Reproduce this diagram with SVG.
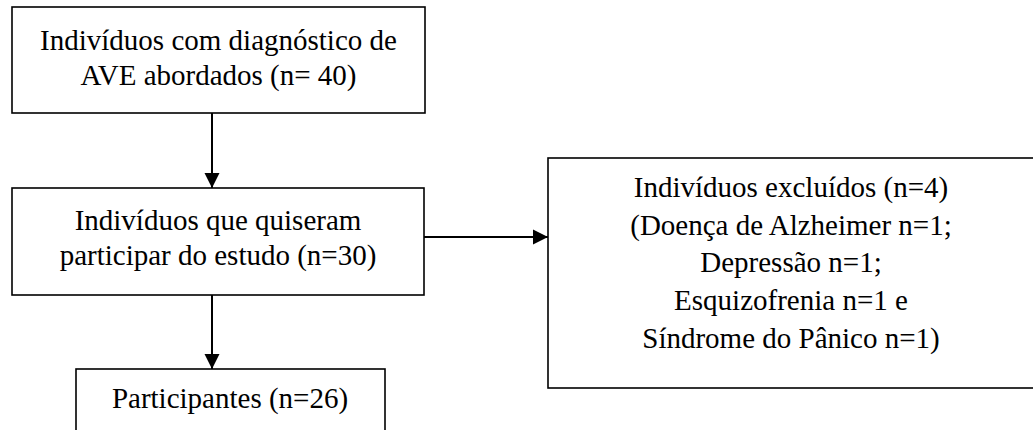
<svg xmlns="http://www.w3.org/2000/svg" width="1033" height="430" viewBox="0 0 1033 430">
<style>
.box{fill:#fff;stroke:#000;stroke-width:1.6}
.t{font-family:'Liberation Serif','Times New Roman',Times,'DejaVu Serif',serif;font-size:29px;fill:#000;text-anchor:middle}
.c{stroke:#000;stroke-width:2;fill:none;marker-end:url(#ah)}
</style>
<defs>
<marker id="ah" markerUnits="userSpaceOnUse" markerWidth="16" markerHeight="16" viewBox="0 0 16 16" refX="15" refY="8" orient="auto">
<path d="M0,0.5 L15,8 L0,15.5 Z" fill="#000"/>
</marker>
</defs>
<rect width="1033" height="430" fill="#fff"/>
<g id="n1">
<rect class="box" x="12" y="7" width="413" height="106"/>
<text class="t" x="218.5" y="50">Indivíduos com diagnóstico de</text>
<text class="t" x="218.5" y="85">AVE abordados (n= 40)</text>
</g>
<g id="n2">
<rect class="box" x="12" y="188" width="412" height="107"/>
<text class="t" x="218" y="230">Indivíduos que quiseram</text>
<text class="t" x="218" y="265">participar do estudo (n=30)</text>
</g>
<g id="n3">
<rect class="box" x="548" y="158" width="486" height="230"/>
<text class="t" x="791" y="197">Indivíduos excluídos (n=4)</text>
<text class="t" x="791" y="235">(Doença de Alzheimer n=1;</text>
<text class="t" x="791" y="272">Depressão n=1;</text>
<text class="t" x="791" y="310">Esquizofrenia n=1 e</text>
<text class="t" x="791" y="348">Síndrome do Pânico n=1)</text>
</g>
<g id="n4">
<rect class="box" x="76" y="369" width="309" height="80"/>
<text class="t" x="230" y="408">Participantes (n=26)</text>
</g>
<g id="connectors">
<line class="c" x1="212" y1="113" x2="212" y2="188"/>
<line class="c" x1="212" y1="295" x2="212" y2="369"/>
<line class="c" x1="424" y1="237" x2="548" y2="237"/>
</g>
</svg>
